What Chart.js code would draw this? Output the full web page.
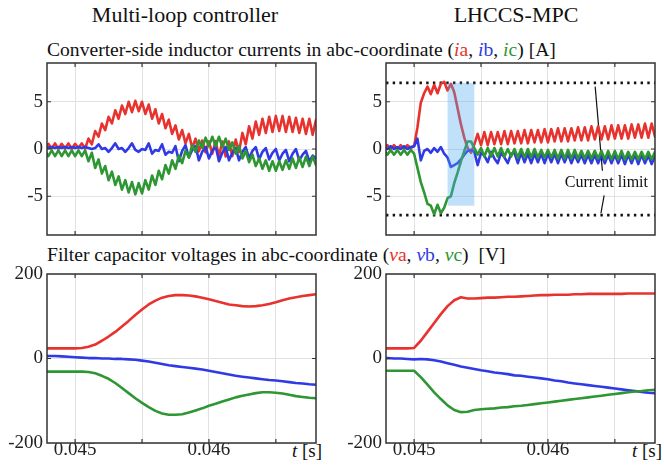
<!DOCTYPE html>
<html>
<head>
<meta charset="utf-8">
<script src="https://cdn.jsdelivr.net/npm/chart.js@4.4.0/dist/chart.umd.min.js"></script>
<style>
  html, body { margin: 0; padding: 0; background: #fff; }
  #page { position: relative; width: 664px; height: 470px; overflow: hidden;
          font-family: 'Liberation Serif', 'Times New Roman', Times, 'DejaVu Serif', serif;
          color: #111; }
  .txt { position: absolute; white-space: nowrap; line-height: 1; }
  canvas { position: absolute; }
  .r { color: #e8322e; } .b { color: #2f3ae6; } .g { color: #2e9632; }
</style>
</head>
<body>
<div id="page">
  <div class="txt" style="left:185px;top:4px;font-size:22px;transform:translateX(-50%)">Multi-loop controller</div>
  <div class="txt" style="left:516px;top:4px;font-size:22px;transform:translateX(-50%)">LHCCS-MPC</div>
  <div class="txt" style="left:47px;top:40px;font-size:19.6px">Converter-side inductor currents in abc-coordinate (<span class="r"><i>i</i>a</span>, <span class="b"><i>i</i>b</span>, <span class="g"><i>i</i>c</span>) [A]</div>
  <div class="txt" style="left:47px;top:245px;font-size:19.6px">Filter capacitor voltages in abc-coordinate (<span class="r"><i>v</i>a</span>, <span class="b"><i>v</i>b</span>, <span class="g"><i>v</i>c</span>)&nbsp; [V]</div>
  <div class="txt" style="right:342px;top:441px;font-size:19px"><i>t</i> [s]</div>
  <div class="txt" style="right:2px;top:441px;font-size:19px"><i>t</i> [s]</div>

  <canvas id="cTL" width="330" height="185" style="left:0;top:55px"></canvas>
  <canvas id="cTR" width="332" height="185" style="left:332px;top:55px"></canvas>
  <canvas id="cBL" width="330" height="208" style="left:0;top:262px"></canvas>
  <canvas id="cBR" width="332" height="208" style="left:332px;top:262px"></canvas>
</div>
<script>
// time axis of the current plots, 25 us steps [s]
const tI = [
  0.044775, 0.0448, 0.044825, 0.04485, 0.044875, 0.0449, 0.044925, 0.04495, 0.044975, 0.045,
  0.045025, 0.04505, 0.045075, 0.0451, 0.045125, 0.04515, 0.045175, 0.0452, 0.045225, 0.04525,
  0.045275, 0.0453, 0.045325, 0.04535, 0.045375, 0.0454, 0.045425, 0.04545, 0.045475, 0.0455,
  0.045525, 0.04555, 0.045575, 0.0456, 0.045625, 0.04565, 0.045675, 0.0457, 0.045725, 0.04575,
  0.045775, 0.0458, 0.045825, 0.04585, 0.045875, 0.0459, 0.045925, 0.04595, 0.045975, 0.046,
  0.046025, 0.04605, 0.046075, 0.0461, 0.046125, 0.04615, 0.046175, 0.0462, 0.046225, 0.04625,
  0.046275, 0.0463, 0.046325, 0.04635, 0.046375, 0.0464, 0.046425, 0.04645, 0.046475, 0.0465,
  0.046525, 0.04655, 0.046575, 0.0466, 0.046625, 0.04665, 0.046675, 0.0467, 0.046725, 0.04675,
  0.046775, 0.0468
];

// multi-loop controller, inductor currents [A]
const iaML = [
  0.0, 0.55, 0.05, 0.6, 0.0, 0.55, 0.05, 0.6, 0.0, 0.55,
  0.1, 0.6, 0.05, 1.1, 0.5, 1.9, 1.3, 2.7, 2.0, 3.4,
  2.7, 4.1, 3.2, 4.6, 3.7, 5.0, 3.9, 5.1, 4.0, 5.0,
  3.7, 4.7, 3.2, 4.2, 2.7, 3.7, 2.2, 3.1, 1.6, 2.5,
  1.0, 2.0, 0.6, 1.6, 0.1, 1.1, -0.25, 0.9, -0.35, 0.8,
  -0.5, 0.85, -0.8, 0.8, -0.8, 0.8, -0.75, 1.0, -0.3, 1.7,
  0.5, 2.4, 1.1, 2.9, 1.5, 3.2, 1.7, 3.4, 1.8, 3.5,
  1.9, 3.5, 1.8, 3.4, 1.8, 3.3, 1.7, 3.2, 1.6, 3.2,
  1.5, 3.1
];
const ibML = [
  0.2, 0.1, 0.2, 0.1, 0.2, 0.1, 0.2, 0.1, 0.2, 0.1,
  0.2, 0.1, 0.2, 0.1, 0.0, 0.1, 0.5, 0.0, 0.1, -0.3,
  0.1, 0.6, 0.0, 0.1, -0.3, 0.1, 0.6, -0.1, -0.3, 0.0,
  -0.1, 0.6, -0.5, -0.1, -0.2, 0.5, -0.6, -0.3, -0.4, 0.3,
  -1.3, -0.2, 0.4, -0.9, -0.1, 0.3, -1.2, -0.3, 0.2, -1.0,
  -0.2, 0.3, -1.3, -0.4, 0.2, -1.2, -0.4, 0.1, -1.2, -0.3,
  0.2, -1.0, -0.2, 0.2, -1.1, -0.3, 0.1, -1.1, -0.4, 0.0,
  -1.2, -0.5, -0.1, -1.3, -0.5, 0.0, -1.2, -0.6, -0.2, -1.3,
  -0.7, -1.0
];
const icML = [
  -0.15, -0.75, -0.15, -0.75, -0.15, -0.75, -0.15, -0.75, -0.15, -0.75,
  -0.15, -0.75, -0.15, -1.3, -0.4, -2.0, -1.1, -2.6, -1.8, -3.3,
  -2.4, -3.8, -2.9, -4.3, -3.3, -4.6, -3.5, -4.8, -3.6, -4.7,
  -3.3, -4.3, -2.8, -3.8, -2.3, -3.2, -1.7, -2.6, -1.2, -2.1,
  -0.7, -1.5, -0.2, -0.9, 0.4, -0.3, 0.9, 0.1, 1.2, 0.3,
  1.3, 0.3, 1.3, 0.2, 1.1, -0.1, 0.7, -0.5, 0.3, -1.0,
  -0.2, -1.4, -0.6, -1.8, -1.0, -2.1, -1.2, -2.3, -1.3, -2.3,
  -1.3, -2.2, -1.2, -2.1, -1.0, -2.0, -0.9, -1.9, -0.8, -1.8,
  -0.8, -1.7
];

// LHCCS-MPC, inductor currents [A]
const iaMPC = [
  0.0, 0.4, 0.0, 0.4, 0.0, 0.4, 0.0, 0.4, 0.1, 0.3,
  2.3, 4.9, 5.9, 6.6, 5.8, 6.8, 5.9, 6.9, 7.1, 6.2,
  6.9, 6.0, 4.3, 2.6, 1.2, 0.1, -0.4, 0.5, 1.6, 0.4,
  1.8, 0.4, 1.8, 0.5, 1.8, 0.5, 1.9, 0.5, 1.9, 0.6,
  1.9, 0.6, 2.0, 0.6, 2.0, 0.7, 2.0, 0.7, 2.1, 0.7,
  2.1, 0.8, 2.2, 0.8, 2.2, 0.8, 2.2, 0.9, 2.3, 0.9,
  2.3, 0.9, 2.4, 1.0, 2.4, 1.0, 2.4, 1.0, 2.5, 1.1,
  2.5, 1.1, 2.5, 1.1, 2.6, 1.2, 2.6, 1.2, 2.7, 1.2,
  2.7, 1.3
];
const ibMPC = [
  0.2, 0.0, 0.3, 0.0, 0.2, 0.0, 0.3, 0.0, 0.2, 0.3,
  1.1, -1.2, -0.2, 0.0, -0.4, 0.1, -0.3, 0.2, -0.5, -0.9,
  -1.9, -1.7, -1.5, -1.1, -0.6, -0.2, -0.1, -0.3, -1.7, -0.4,
  -0.7, -1.4, -0.3, -1.0, -1.5, -0.4, -0.9, -1.5, -0.5, -0.4,
  -1.5, -0.4, -1.4, -0.5, -1.5, -0.5, -1.4, -0.5, -1.5, -0.5,
  -1.4, -0.5, -1.5, -0.5, -1.4, -0.5, -1.5, -0.6, -1.4, -0.6,
  -1.5, -0.6, -1.5, -0.6, -1.5, -0.6, -1.5, -0.6, -1.5, -0.6,
  -1.5, -0.6, -1.6, -0.6, -1.5, -0.6, -1.6, -0.6, -1.5, -0.7,
  -1.6, -0.7
];
const icMPC = [
  -0.1, -0.6, -0.1, -0.6, -0.1, -0.6, -0.1, -0.6, -0.1, -0.5,
  -2.0, -3.5, -4.6, -5.8, -6.0, -6.9, -5.9, -6.8, -6.2, -5.2,
  -5.0, -3.6, -2.5, -1.3, -0.2, 0.8, 0.8, 0.1, -0.6, 0.1,
  -0.8, 0.1, -0.8, 0.1, -0.8, 0.1, -0.8, 0.0, -0.8, 0.0,
  -0.9, 0.0, -0.9, 0.0, -0.9, 0.0, -0.9, -0.1, -0.9, -0.1,
  -0.9, -0.1, -1.0, -0.1, -1.0, -0.1, -1.0, -0.1, -1.0, -0.2,
  -1.0, -0.2, -1.0, -0.2, -1.0, -0.2, -1.1, -0.2, -1.1, -0.2,
  -1.1, -0.2, -1.1, -0.3, -1.1, -0.3, -1.1, -0.3, -1.1, -0.3,
  -1.1, -0.3
];

// time axis of the voltage plots, 50 us steps [s]
const tV = [
  0.04475, 0.0448, 0.04485, 0.0449, 0.04495, 0.045, 0.04505, 0.0451, 0.04515, 0.0452,
  0.04525, 0.0453, 0.04535, 0.0454, 0.04545, 0.0455, 0.04555, 0.0456, 0.04565, 0.0457,
  0.04575, 0.0458, 0.04585, 0.0459, 0.04595, 0.046, 0.04605, 0.0461, 0.04615, 0.0462,
  0.04625, 0.0463, 0.04635, 0.0464, 0.04645, 0.0465, 0.04655, 0.0466, 0.04665, 0.0467,
  0.04675, 0.0468
];

// filter capacitor voltages [V]
const vaML = [
  24, 24, 24, 24, 24, 24, 25, 28, 33, 42,
  52, 63, 76, 89, 103, 116, 128, 137, 144, 148,
  150, 150, 149, 147, 144, 140, 136, 132, 128, 126,
  124, 123, 124, 126, 129, 133, 138, 142, 145, 148,
  150, 152
];
const vbML = [
  7, 6, 6, 5, 4, 3, 2, 1, 1, 0,
  0, -1, -1, -2, -3, -5, -7, -10, -13, -16,
  -18, -20, -22, -24, -26, -29, -32, -35, -38, -41,
  -43, -45, -47, -49, -51, -52, -54, -56, -58, -59,
  -61, -62
];
const vcML = [
  -31, -31, -31, -31, -31, -31, -31, -32, -35, -41,
  -48, -58, -70, -82, -94, -105, -115, -124, -130, -133,
  -133, -132, -128, -123, -118, -112, -107, -102, -97, -92,
  -88, -85, -82, -80, -80, -81, -83, -86, -89, -91,
  -93, -94
];
const vaMPC = [
  24, 24, 24, 24, 24, 25, 42, 63, 84, 105,
  124, 138, 145, 142, 142, 143, 144, 144, 145, 146,
  146, 147, 148, 149, 150, 150, 151, 151, 151, 152,
  152, 153, 153, 153, 153, 153, 153, 154, 154, 154,
  154, 154
];
const vbMPC = [
  1, 1, 0, 0, -1, -2, -1, -2, -4, -7,
  -11, -15, -19, -22, -25, -28, -30, -33, -35, -37,
  -40, -41, -43, -45, -47, -49, -52, -54, -57, -59,
  -61, -63, -65, -67, -69, -71, -73, -75, -77, -79,
  -81, -82
];
const vcMPC = [
  -29, -29, -29, -29, -29, -29, -44, -62, -80, -96,
  -111, -122, -127, -126, -122, -120, -119, -118, -116, -115,
  -113, -112, -110, -108, -106, -104, -102, -100, -98, -96,
  -94, -92, -90, -88, -86, -84, -82, -80, -78, -77,
  -75, -74
];

// axes
const tRange = [0.04479, 0.0468];
const tGridTicks = [0.045, 0.0455, 0.046, 0.0465];
const tLabelTicks = [0.045, 0.046];
const iRange = [-9.1, 9.1];
const iTicks = [-5, 0, 5];
const vRange = [-200, 200];
const vTicks = [-200, 0, 200];

// current limit, highlighted interval and annotation
const limitT = [0.04479, 0.0468];
const limitI = [7, -7];
const shadeT = [0.04525, 0.04545];
const shadeI = [-6, 7];
const leaderUpT = [0.046353, 0.046407];
const leaderUpI = [6.6, -2.3];
const leaderLoT = [0.04642, 0.046396];
const leaderLoI = [-4.9, -6.8];
const noteT = 0.046437;
const noteI = -3.6;
const noteText = 'Current limit';

const RED = '#e8322e', BLUE = '#2f3ae6', GREEN = '#2e9632';
const GRID = '#e2e2e2', AXIS = '#333333';
const SERIF = "'Liberation Serif', 'Times New Roman', Times, 'DejaVu Serif', serif";

Chart.defaults.font.family = SERIF;

function phase(data, color) {
    return { data: data, borderColor: color, borderWidth: 2.6, pointRadius: 0, fill: false,
             borderJoinStyle: 'round', borderCapStyle: 'round' };
}

function pairs(xs, ys) {
    return xs.map(function (x, k) { return { x: x, y: ys[k] }; });
}

// box round the plot area with inward ticks, like the original figure
const boxPlugin = {
    id: 'box',
    afterDraw: function (chart) {
        var ctx = chart.ctx, a = chart.chartArea, x = chart.scales.x, y = chart.scales.y;
        ctx.save();
        ctx.strokeStyle = AXIS;
        ctx.lineWidth = 1.2;
        ctx.beginPath();
        x.ticks.forEach(function (t) {
            var px = x.getPixelForValue(t.value);
            ctx.moveTo(px, a.bottom); ctx.lineTo(px, a.bottom - 4);
            ctx.moveTo(px, a.top); ctx.lineTo(px, a.top + 4);
        });
        y.ticks.forEach(function (t) {
            var py = y.getPixelForValue(t.value);
            if (py <= a.top + 1 || py >= a.bottom - 1) return;
            ctx.moveTo(a.left, py); ctx.lineTo(a.left + 4, py);
            ctx.moveTo(a.right, py); ctx.lineTo(a.right - 4, py);
        });
        ctx.stroke();
        ctx.lineWidth = 1.5;
        ctx.strokeRect(a.left, a.top, a.right - a.left, a.bottom - a.top);
        ctx.restore();
    }
};

// translucent band, drawn over the phase currents (dataset 0 is drawn last)
const shadePlugin = {
    id: 'shade',
    afterDatasetDraw: function (chart, args) {
        if (args.index !== 0) return;
        var ctx = chart.ctx, x = chart.scales.x, y = chart.scales.y;
        var x0 = x.getPixelForValue(shadeT[0]), x1 = x.getPixelForValue(shadeT[1]);
        var y0 = y.getPixelForValue(shadeI[1]), y1 = y.getPixelForValue(shadeI[0]);
        ctx.save();
        ctx.fillStyle = 'rgba(77, 170, 240, 0.35)';
        ctx.fillRect(x0, y0, x1 - x0, y1 - y0);
        ctx.restore();
    }
};

const notePlugin = {
    id: 'note',
    afterDraw: function (chart) {
        var ctx = chart.ctx, x = chart.scales.x, y = chart.scales.y;
        ctx.save();
        ctx.font = '16px ' + SERIF;
        ctx.fillStyle = '#111';
        ctx.textAlign = 'center';
        ctx.textBaseline = 'middle';
        ctx.fillText(noteText, x.getPixelForValue(noteT), y.getPixelForValue(noteI));
        ctx.restore();
    }
};

function makePanel(id, o) {
    return new Chart(document.getElementById(id), {
        type: 'line',
        data: { labels: o.labels, datasets: o.datasets },
        options: {
            responsive: false,
            animation: false,
            events: [],
            layout: { padding: { top: o.padTop, right: o.padRight, left: 0, bottom: 0 } },
            plugins: { legend: { display: false }, tooltip: { enabled: false } },
            scales: {
                x: {
                    type: 'linear',
                    min: tRange[0],
                    max: tRange[1],
                    afterBuildTicks: function (s) { s.ticks = tGridTicks.map(function (v) { return { value: v }; }); },
                    afterFit: function (s) { s.height = o.xHeight; s.paddingLeft = 0; s.paddingRight = 0; },
                    grid: { color: GRID, lineWidth: 1, drawTicks: false },
                    border: { display: false },
                    ticks: {
                        display: o.xLabels,
                        padding: -4,
                        maxRotation: 0,
                        autoSkip: false,
                        color: '#222',
                        font: { size: 19, family: SERIF },
                        callback: function (v) { return tLabelTicks.indexOf(v) >= 0 ? v.toFixed(3) : ''; }
                    }
                },
                y: {
                    min: o.yRange[0],
                    max: o.yRange[1],
                    afterBuildTicks: function (s) { s.ticks = o.yTicks.map(function (v) { return { value: v }; }); },
                    afterFit: function (s) { s.width = o.yWidth; s.paddingTop = 0; s.paddingBottom = 0; },
                    grid: { color: GRID, lineWidth: 1, drawTicks: false },
                    border: { display: false },
                    ticks: {
                        padding: 4,
                        autoSkip: false,
                        color: '#222',
                        font: { size: 19, family: SERIF },
                        callback: function (v) { return String(v); }
                    }
                }
            }
        },
        plugins: o.plugins
    });
}

makePanel('cTL', {
    labels: tI,
    datasets: [phase(icML, GREEN), phase(ibML, BLUE), phase(iaML, RED)],
    yRange: iRange, yTicks: iTicks,
    padTop: 8, padRight: 14, yWidth: 47, xHeight: 5, xLabels: false,
    plugins: [boxPlugin]
});

var limitStyle = { borderColor: '#111', borderWidth: 2.6, borderDash: [2.4, 4.3], borderCapStyle: 'butt',
                   pointRadius: 0, fill: false };
var leaderStyle = { borderColor: '#111', borderWidth: 1.2, pointRadius: 0, fill: false };

makePanel('cTR', {
    labels: tI,
    datasets: [
        phase(icMPC, GREEN), phase(ibMPC, BLUE), phase(iaMPC, RED),
        Object.assign({ data: pairs(limitT, [limitI[0], limitI[0]]) }, limitStyle),
        Object.assign({ data: pairs(limitT, [limitI[1], limitI[1]]) }, limitStyle),
        Object.assign({ data: pairs(leaderUpT, leaderUpI) }, leaderStyle),
        Object.assign({ data: pairs(leaderLoT, leaderLoI) }, leaderStyle)
    ],
    yRange: iRange, yTicks: iTicks,
    padTop: 8, padRight: 9, yWidth: 54, xHeight: 5, xLabels: false,
    plugins: [shadePlugin, boxPlugin, notePlugin]
});

makePanel('cBL', {
    labels: tV,
    datasets: [phase(vcML, GREEN), phase(vbML, BLUE), phase(vaML, RED)],
    yRange: vRange, yTicks: vTicks,
    padTop: 12, padRight: 14, yWidth: 47, xHeight: 27, xLabels: true,
    plugins: [boxPlugin]
});

makePanel('cBR', {
    labels: tV,
    datasets: [phase(vcMPC, GREEN), phase(vbMPC, BLUE), phase(vaMPC, RED)],
    yRange: vRange, yTicks: vTicks,
    padTop: 12, padRight: 9, yWidth: 54, xHeight: 27, xLabels: true,
    plugins: [boxPlugin]
});
</script>
</body>
</html>
